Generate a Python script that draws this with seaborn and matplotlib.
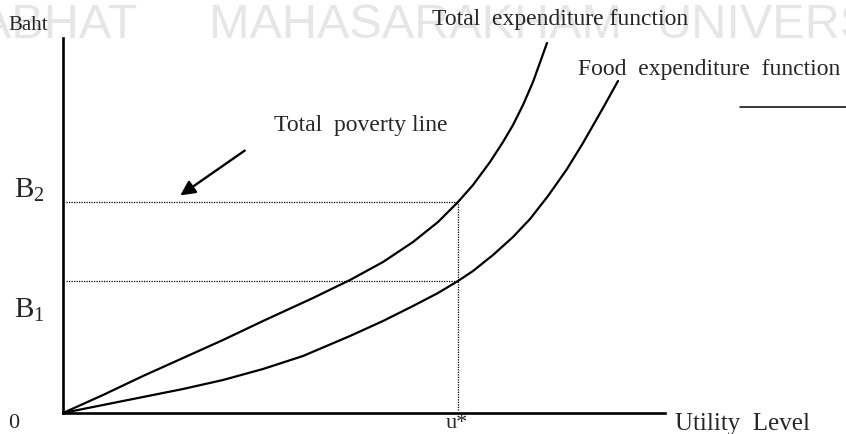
import matplotlib
matplotlib.use("Agg")
import matplotlib.pyplot as plt
import seaborn as sns
import pandas as pd

# curve readings (utility level, baht), in the chart's own units
total_u = [0, 40, 80, 120, 160, 200, 250, 287, 320, 350, 375, 395, 410, 427, 440, 450, 460, 470, 484]
total_b = [0, 18, 37, 55, 73, 92, 115, 133, 151, 171, 191, 211, 228, 251, 271, 288, 308, 331, 370]
food_u = [0, 40, 80, 120, 160, 200, 240, 287, 320, 350, 375, 395, 410, 430, 450, 467, 485, 504, 520, 540, 555]
food_b = [0, 8, 16, 24, 33, 44, 57, 77, 92, 107, 120, 132, 142, 158, 176, 194, 217, 244, 270, 305, 332]

u_star = 395
b1 = 132
b2 = 211

W, H = 846, 434

sns.set_style("white")
plt.rcParams["font.family"] = ["Liberation Serif", "DejaVu Serif"]
plt.rcParams["mathtext.fontset"] = "custom"
plt.rcParams["mathtext.rm"] = "Liberation Serif"
plt.rcParams["mathtext.it"] = "Liberation Serif:italic"

fig = plt.figure(figsize=(W / 100, H / 100), dpi=100)
fig.patch.set_facecolor("white")

# axes placed so the origin sits at (63, 413) px
ax = fig.add_axes([63 / W, (H - 413) / H, 602 / W, 375 / H])
ax.set_facecolor("none")


def px(x, y):
    # pixel position (from top-left) -> figure fraction
    return x / W, 1 - y / H


# faint scan watermark
wm = dict(color="#e6e6e6", fontsize=35, family="Liberation Sans", va="center", zorder=-5)
fig.text(*px(137, 26), "RAJABHAT", ha="right", **wm)
fig.text(*px(415, 26), "MAHASARAKHAM", ha="center", **wm)
fig.text(*px(656, 26), "UNIVERSITY", ha="left", **wm)

df_total = pd.DataFrame({"u": total_u, "b": total_b})
df_food = pd.DataFrame({"u": food_u, "b": food_b})
sns.lineplot(data=df_total, x="u", y="b", ax=ax, color="black", lw=1.6,
             sort=False, estimator=None, clip_on=False)
sns.lineplot(data=df_food, x="u", y="b", ax=ax, color="black", lw=1.6,
             sort=False, estimator=None, clip_on=False)

# poverty lines
dot = dict(color="black", lw=0.9, ls=(0, (1, 1)))
ax.plot([3, u_star], [b2, b2], **dot)
ax.plot([3, u_star], [b1, b1], **dot)
ax.plot([u_star, u_star], [3, b2], **dot)

ax.set_xlim(0, 602)
ax.set_ylim(0, 375)
ax.set_xticks([])
ax.set_yticks([])
ax.set_xlabel("")
ax.set_ylabel("")
for s in ["top", "right"]:
    ax.spines[s].set_visible(False)
for s in ["left", "bottom"]:
    ax.spines[s].set_linewidth(1.9)
    ax.spines[s].set_color("black")

# arrow pointing at the total poverty line
ax.annotate("", xy=(115, 216), xytext=(184, 264),
            arrowprops=dict(arrowstyle="-|>", color="black", lw=1.7, mutation_scale=22))

# short rule at the top right
ax.plot([677, 790], [306, 306], color="black", lw=1.1, clip_on=False)

fs = 17
fig.text(*px(8, 25), "Baht", fontsize=15, va="center", ha="left")
fig.text(*px(432, 20), "Total  expenditure function", fontsize=fs, va="center", ha="left")
fig.text(*px(578, 70), "Food  expenditure  function", fontsize=fs, va="center", ha="left")
fig.text(*px(274, 125), "Total  poverty line", fontsize=fs, va="center", ha="left")
fig.text(*px(14, 190), r"B$_2$", fontsize=21, va="center", ha="left")
fig.text(*px(14, 310), r"B$_1$", fontsize=21, va="center", ha="left")
fig.text(*px(14, 424), "0", fontsize=16, va="center", ha="center")
fig.text(*px(457, 424), "u*", fontsize=16, va="center", ha="center")
fig.text(*px(675, 424), "Utility  Level", fontsize=18, va="center", ha="left")

fig.savefig("out.png", dpi=100)
